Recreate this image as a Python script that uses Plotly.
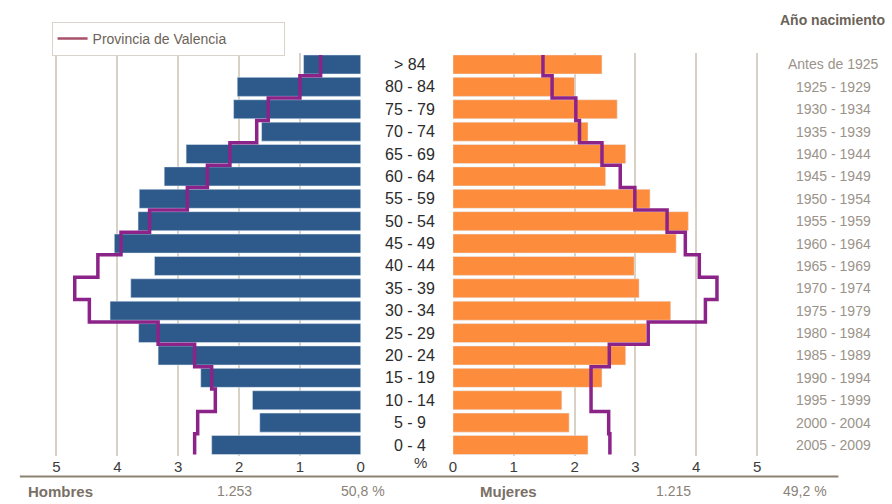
import plotly.graph_objects as go

# ---- data (bottom to top: 0-4 ... >84) ----
age_groups = ["0 - 4", "5 - 9", "10 - 14", "15 - 19", "20 - 24", "25 - 29", "30 - 34",
              "35 - 39", "40 - 44", "45 - 49", "50 - 54", "55 - 59", "60 - 64",
              "65 - 69", "70 - 74", "75 - 79", "80 - 84", "> 84"]
birth_years = ["2005 - 2009", "2000 - 2004", "1995 - 1999", "1990 - 1994", "1985 - 1989",
               "1980 - 1984", "1975 - 1979", "1970 - 1974", "1965 - 1969", "1960 - 1964",
               "1955 - 1959", "1950 - 1954", "1945 - 1949", "1940 - 1944", "1935 - 1939",
               "1930 - 1934", "1925 - 1929", "Antes de 1925"]
hombres = [2.45, 1.66, 1.78, 2.63, 3.33, 3.65, 4.12, 3.78, 3.39, 4.05, 3.66, 3.64,
           3.23, 2.87, 1.63, 2.09, 2.03, 0.94]
mujeres = [2.22, 1.91, 1.79, 2.45, 2.84, 3.18, 3.58, 3.06, 2.98, 3.67, 3.87, 3.24,
           2.51, 2.84, 2.22, 2.70, 2.00, 2.45]
prov_hombres = [2.73, 2.68, 2.39, 2.45, 2.73, 3.33, 4.46, 4.70, 4.32, 3.94, 3.47, 2.85,
                2.52, 2.15, 1.71, 1.52, 1.00, 0.66]
prov_mujeres = [2.58, 2.56, 2.27, 2.27, 2.57, 3.21, 4.15, 4.34, 4.05, 3.82, 3.52, 2.99,
                2.75, 2.45, 2.08, 2.02, 1.63, 1.48]
x_ticks = [0, 1, 2, 3, 4, 5]
totals = {"hombres": "1.253", "hombres_pct": "50,8 %", "mujeres": "1.215", "mujeres_pct": "49,2 %"}

BLUE = "#2d5a8a"
ORANGE = "#fd8d3c"
PURPLE = "#8b2389"
LEGEND_LINE = "#a8506a"
GRID = "#d8d2c6"
FONT = "Liberation Sans, Arial, sans-serif"

rows = list(range(len(age_groups)))
BAR_W = 0.85


def step_coords(values):
    xs, ys = [], []
    n = len(values)
    for i, v in enumerate(values):
        lo = i - 0.5 if i > 0 else i - BAR_W / 2
        hi = i + 0.5 if i < n - 1 else i + BAR_W / 2
        xs += [v, v]
        ys += [lo, hi]
    return xs, ys


fig = go.Figure()
fig.add_trace(go.Bar(y=rows, x=hombres, orientation="h", marker_color=BLUE,
                     width=BAR_W, xaxis="x", yaxis="y", showlegend=False))
fig.add_trace(go.Bar(y=rows, x=mujeres, orientation="h", marker_color=ORANGE,
                     width=BAR_W, xaxis="x2", yaxis="y", showlegend=False))
hx, hy = step_coords(prov_hombres)
mx, my = step_coords(prov_mujeres)
fig.add_trace(go.Scatter(x=hx, y=hy, mode="lines", line=dict(color=PURPLE, width=3.5),
                         xaxis="x", yaxis="y", showlegend=False))
fig.add_trace(go.Scatter(x=mx, y=my, mode="lines", line=dict(color=PURPLE, width=3.5),
                         xaxis="x2", yaxis="y", showlegend=False))
# legend entry
fig.add_trace(go.Scatter(x=[None], y=[None], mode="lines", name="Provincia de Valencia",
                         line=dict(color=LEGEND_LINE, width=2.5), xaxis="x", yaxis="y"))

W, H = 892, 504
axis_common = dict(showgrid=True, gridcolor=GRID, gridwidth=2, zeroline=False,
                   tickvals=x_ticks, ticktext=[str(t) for t in x_ticks], ticks="",
                   tickfont=dict(size=15, color="#3c3c3c", family=FONT), showline=False,
                   fixedrange=True)

fig.update_layout(
    width=W, height=H,
    margin=dict(l=0, r=0, t=0, b=0),
    paper_bgcolor="white", plot_bgcolor="white",
    barmode="overlay",
    font=dict(family=FONT),
    xaxis=dict(domain=[49.9 / W, 360 / W], range=[5.05, 0], anchor="y", **axis_common),
    xaxis2=dict(domain=[453 / W, 763 / W], range=[0, 5.05], anchor="y", **axis_common),
    yaxis=dict(domain=[1 - 456.2 / H, 1 - 53.3 / H], range=[-0.5, 17.5], visible=False,
               fixedrange=True),
    legend=dict(x=48 / W, y=1 - 22 / H, xanchor="left", yanchor="top",
                orientation="h", bgcolor="white", bordercolor="#d8d4cc", borderwidth=1,
                font=dict(size=14, color="#6b6358", family=FONT),
                itemwidth=30, entrywidth=186, entrywidthmode="pixels"),
)

annotations = []
for i in rows:
    annotations.append(dict(x=410 / W, y=i, xref="paper", yref="y", text=age_groups[i],
                            showarrow=False, xanchor="center", yanchor="middle",
                            font=dict(size=16, color="#2b2b2b", family=FONT)))
    annotations.append(dict(x=837 / W, y=i, xref="paper", yref="y", text=birth_years[i],
                            showarrow=False, xanchor="center", yanchor="middle",
                            font=dict(size=14, color="#9b938a", family=FONT)))

annotations.append(dict(x=420 / W, y=1 - 462 / H, xref="paper", yref="paper", text="%",
                        showarrow=False, xanchor="center", yanchor="middle",
                        font=dict(size=15, color="#3c3c3c", family=FONT)))
annotations.append(dict(x=891 / W, y=1 - 20 / H, xref="paper", yref="paper",
                        text="<b>Año nacimiento</b>", showarrow=False, xanchor="right",
                        yanchor="middle", font=dict(size=14, color="#6b6358", family=FONT)))
bottom_y = 1 - 491 / H
bottom = [
    dict(x=22 / W, y=bottom_y, text="<b>Hombres</b>", xanchor="left",
         font=dict(size=15, color="#7a7066", family=FONT)),
    dict(x=233 / W, y=bottom_y, text=totals["hombres"], xanchor="center",
         font=dict(size=14, color="#8a8278", family=FONT)),
    dict(x=362 / W, y=bottom_y, text=totals["hombres_pct"], xanchor="center",
         font=dict(size=14, color="#8a8278", family=FONT)),
    dict(x=478 / W, y=bottom_y, text="<b>Mujeres</b>", xanchor="left",
         font=dict(size=15, color="#7a7066", family=FONT)),
    dict(x=676 / W, y=bottom_y, text=totals["mujeres"], xanchor="center",
         font=dict(size=14, color="#8a8278", family=FONT)),
    dict(x=808 / W, y=bottom_y, text=totals["mujeres_pct"], xanchor="center",
         font=dict(size=14, color="#8a8278", family=FONT)),
]
for a in bottom:
    a.update(xref="paper", yref="paper", showarrow=False, yanchor="middle")
annotations += bottom
fig.update_layout(annotations=annotations)

fig.add_shape(type="line", xref="paper", yref="paper", x0=16 / W, x1=842 / W,
              y0=1 - 476.5 / H, y1=1 - 476.5 / H, line=dict(color="#8c8272", width=2))

fig.write_html("out.html", config={"displayModeBar": False},
               post_script="document.body.style.margin='0';document.body.style.overflow='hidden';")
